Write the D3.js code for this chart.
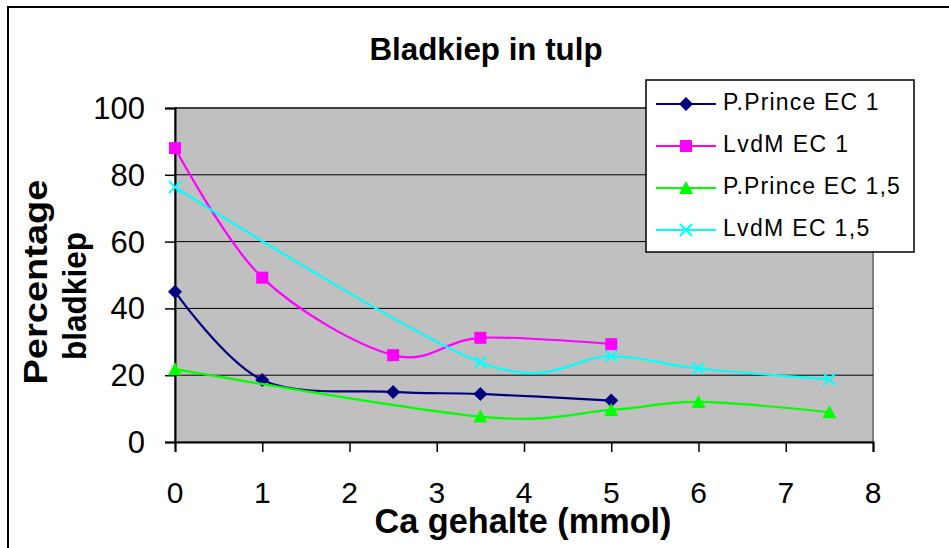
<!DOCTYPE html>
<html>
<head>
<meta charset="utf-8">
<script src="https://cdn.jsdelivr.net/npm/d3@7"></script>
<style>
  body { margin: 0; background: #fff; }
  text { font-family: "Liberation Sans", Arial, sans-serif; }
</style>
</head>
<body>
<div id="chart"></div>
<script>
// values
let seriesNames = ['P.Prince EC 1', 'LvdM EC 1', 'P.Prince EC 1,5', 'LvdM EC 1,5']
let ppEc1X = [0, 1, 2.5, 3.5, 5]
let ppEc1Y = [45, 18.6, 15, 14.4, 12.4]
let lvdmEc1X = [0, 1, 2.5, 3.5, 5]
let lvdmEc1Y = [88, 49.2, 26, 31.2, 29.3]
let ppEc15X = [0, 3.5, 5, 6, 7.5]
let ppEc15Y = [21.8, 7.6, 9.6, 12, 8.9]
let lvdmEc15X = [0, 3.5, 5, 6, 7.5]
let lvdmEc15Y = [76.3, 23.9, 25.7, 22, 18.8]
let xTicks = [0, 1, 2, 3, 4, 5, 6, 7, 8]
let yTicks = [0, 20, 40, 60, 80, 100]

let width = 949,
  height = 548
let plotLeft = 175, plotRight = 873, plotTop = 108, plotBottom = 442

let svg = d3.select('#chart')
  .append('svg')
  .attr('width', width)
  .attr('height', height)

// chart area border (only left and top are inside the frame)
svg.append('path')
  .attr('d', 'M8,' + height + 'V7H' + width)
  .attr('fill', 'none')
  .attr('stroke', '#000')
  .attr('stroke-width', 2)

let x = d3.scaleLinear().domain([0, 8]).range([plotLeft, plotRight])
let y = d3.scaleLinear().domain([0, 100]).range([plotBottom, plotTop])

// plot area
svg.append('rect')
  .attr('x', plotLeft).attr('y', plotTop)
  .attr('width', plotRight - plotLeft).attr('height', plotBottom - plotTop)
  .attr('fill', '#c0c0c0')
  .attr('stroke', '#808080')
  .attr('stroke-width', 2)

// gridlines
svg.selectAll('.grid')
  .data(yTicks.filter(d => d > 0))
  .enter().append('line')
  .attr('x1', plotLeft).attr('x2', plotRight)
  .attr('y1', d => y(d)).attr('y2', d => y(d))
  .attr('stroke', '#000')
  .attr('stroke-width', 1)

// axes
svg.append('g')
  .attr('transform', 'translate(0,' + plotBottom + ')')
  .call(d3.axisBottom(x).tickValues(xTicks).tickSize(10).tickFormat(''))
svg.append('g')
  .attr('transform', 'translate(' + plotLeft + ',0)')
  .call(d3.axisLeft(y).tickValues(yTicks).tickSize(10).tickFormat(''))
svg.selectAll('.domain').attr('stroke', '#000').attr('stroke-width', 2)
svg.selectAll('.tick line').attr('stroke', '#000').attr('stroke-width', 1.5)

// tick labels
svg.selectAll('.xlabel')
  .data(xTicks)
  .enter().append('text')
  .attr('x', d => x(d))
  .attr('y', 503)
  .attr('text-anchor', 'middle')
  .attr('font-size', 30)
  .text(d => d)

svg.selectAll('.ylabel')
  .data(yTicks)
  .enter().append('text')
  .attr('x', 145)
  .attr('y', d => y(d) + 11)
  .attr('text-anchor', 'end')
  .attr('font-size', 31)
  .text(d => d)

// titles
svg.append('text')
  .attr('x', 486).attr('y', 60)
  .attr('text-anchor', 'middle')
  .attr('font-size', 31)
  .attr('font-weight', 'bold')
  .attr('textLength', 233)
  .attr('lengthAdjust', 'spacingAndGlyphs')
  .text('Bladkiep in tulp')

svg.append('text')
  .attr('x', 523).attr('y', 533)
  .attr('text-anchor', 'middle')
  .attr('font-size', 35)
  .attr('font-weight', 'bold')
  .attr('textLength', 297)
  .attr('lengthAdjust', 'spacingAndGlyphs')
  .text('Ca gehalte (mmol)')

svg.append('text')
  .attr('transform', 'translate(47,282) rotate(-90)')
  .attr('text-anchor', 'middle')
  .attr('font-size', 33)
  .attr('font-weight', 'bold')
  .attr('textLength', 205)
  .attr('lengthAdjust', 'spacingAndGlyphs')
  .text('Percentage')
svg.append('text')
  .attr('transform', 'translate(86,296) rotate(-90)')
  .attr('text-anchor', 'middle')
  .attr('font-size', 33)
  .attr('font-weight', 'bold')
  .attr('textLength', 128)
  .attr('lengthAdjust', 'spacingAndGlyphs')
  .text('bladkiep')

// series
let series = [
  { name: seriesNames[0], xs: ppEc1X, ys: ppEc1Y, color: '#000080', marker: 'diamond' },
  { name: seriesNames[1], xs: lvdmEc1X, ys: lvdmEc1Y, color: '#ff00ff', marker: 'square' },
  { name: seriesNames[2], xs: ppEc15X, ys: ppEc15Y, color: '#00ff00', marker: 'triangle' },
  { name: seriesNames[3], xs: lvdmEc15X, ys: lvdmEc15Y, color: '#00ffff', marker: 'cross' }
]

let line = d3.line()
  .x(d => x(d[0]))
  .y(d => y(d[1]))
  .curve(d3.curveCatmullRom.alpha(0))

function drawMarker(g, type, color) {
  if (type === 'diamond') {
    g.append('path').attr('d', 'M0,-7L7,0L0,7L-7,0Z').attr('fill', color)
  } else if (type === 'square') {
    g.append('rect').attr('x', -6).attr('y', -6).attr('width', 12).attr('height', 12).attr('fill', color)
  } else if (type === 'triangle') {
    g.append('path').attr('d', 'M0,-7L7,6L-7,6Z').attr('fill', color)
  } else {
    g.append('path').attr('d', 'M-6,-6L6,6M-6,6L6,-6').attr('stroke', color).attr('stroke-width', 2)
  }
}

series.forEach(s => {
  let pts = s.xs.map((v, i) => [v, s.ys[i]])
  svg.append('path')
    .datum(pts)
    .attr('d', line)
    .attr('fill', 'none')
    .attr('stroke', s.color)
    .attr('stroke-width', 2.2)
  pts.forEach(p => {
    let g = svg.append('g').attr('transform', 'translate(' + x(p[0]) + ',' + y(p[1]) + ')')
    drawMarker(g, s.marker, s.color)
  })
})

// legend
let legend = svg.append('g')
legend.append('rect')
  .attr('x', 646).attr('y', 80)
  .attr('width', 268).attr('height', 172)
  .attr('fill', '#fff')
  .attr('stroke', '#000')
  .attr('stroke-width', 1.5)

series.forEach((s, i) => {
  let ly = 104 + i * 42
  legend.append('line')
    .attr('x1', 656).attr('x2', 716)
    .attr('y1', ly).attr('y2', ly)
    .attr('stroke', s.color)
    .attr('stroke-width', 2.2)
  let g = legend.append('g').attr('transform', 'translate(686,' + ly + ')')
  drawMarker(g, s.marker, s.color)
  let t = legend.append('text')
    .attr('x', 723).attr('y', ly + 6)
    .attr('font-size', 23)
    .text(s.name)
  // Excel spaces its legend text a little wider
  t.attr('textLength', t.node().getComputedTextLength() * 1.1)
})
</script>
</body>
</html>
